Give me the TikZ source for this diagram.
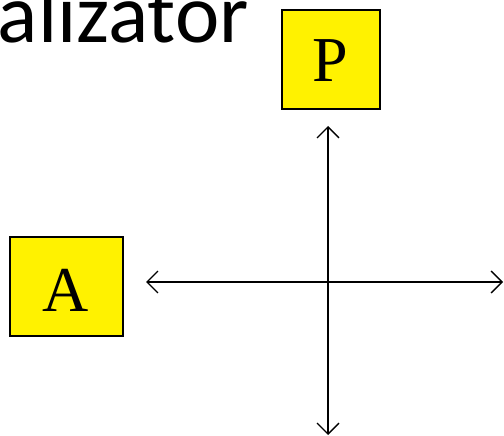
\documentclass[tikz,border=0pt]{standalone}
\usepackage{fontspec}
\setmainfont{Liberation Serif}
\newfontfamily\titlefont{Carlito}
\usetikzlibrary{arrows.meta}
\begin{document}
\begin{tikzpicture}[x=1pt,y=-1pt,
  letterbox/.style={draw=black, line width=1.5pt, fill=yellow, inner sep=0pt,
    font=\fontsize{64}{64}\selectfont},
  axis/.style={line width=1.3pt, {Straight Barb[length=11pt,width=22pt,line width=1.3pt]}-{Straight Barb[length=11pt,width=22pt,line width=1.3pt]}}]
  \useasboundingbox (0,0) rectangle (504,436);
  \clip (0,0) rectangle (504,436);
  % slide title, cut at the page edge
  \node[anchor=base east, inner sep=0pt, font=\titlefont\fontsize{84}{84}\selectfont] (title) at (249,43) {alizator};
  % yellow boxes
  \node[letterbox, minimum width=98pt, minimum height=99pt] (P) at (331,59.5) {};
  \node[font=\fontsize{64}{64}\selectfont, inner sep=0pt] (Plabel) at (330,61) {P};
  \node[letterbox, minimum width=113pt, minimum height=99pt] (A) at (66.5,286.5) {};
  \node[font=\fontsize{64}{64}\selectfont, inner sep=0pt] (Alabel) at (66,290) {A};
  % axes
  \coordinate (top) at (328,126);
  \coordinate (bottom) at (328,435);
  \coordinate (left) at (146,282);
  \coordinate (right) at (503,282);
  \draw[axis] (top) -- (bottom);
  \draw[axis] (left) -- (right);
\end{tikzpicture}
\end{document}
